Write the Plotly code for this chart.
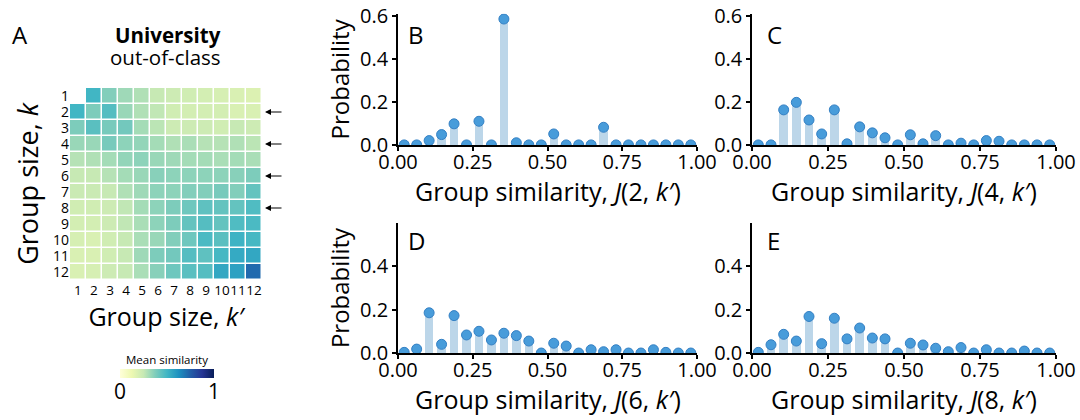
import plotly.graph_objects as go

FONT = "Open Sans"

# ---------------- data ----------------
group_sizes = [1, 2, 3, 4, 5, 6, 7, 8, 9, 10, 11, 12]
N = None
mean_similarity = [
    [N,    0.50, 0.37, 0.32, 0.29, 0.25, 0.23, 0.22, 0.21, 0.20, 0.19, 0.18],
    [0.50, 0.38, 0.46, 0.33, 0.29, 0.26, 0.22, 0.21, 0.21, 0.21, 0.19, 0.19],
    [0.38, 0.45, 0.39, 0.40, 0.31, 0.27, 0.23, 0.23, 0.23, 0.22, 0.25, 0.23],
    [0.33, 0.33, 0.39, 0.35, 0.34, 0.31, 0.29, 0.30, 0.28, 0.28, 0.29, 0.27],
    [0.28, 0.29, 0.31, 0.34, 0.35, 0.33, 0.32, 0.31, 0.31, 0.30, 0.31, 0.30],
    [0.25, 0.25, 0.28, 0.31, 0.33, 0.36, 0.35, 0.35, 0.35, 0.35, 0.36, 0.38],
    [0.24, 0.24, 0.25, 0.29, 0.32, 0.35, 0.35, 0.37, 0.37, 0.39, 0.37, 0.43],
    [0.22, 0.22, 0.23, 0.26, 0.31, 0.35, 0.38, 0.41, 0.44, 0.43, 0.43, 0.47],
    [0.21, 0.21, 0.23, 0.26, 0.30, 0.35, 0.38, 0.43, 0.46, 0.43, 0.47, 0.48],
    [0.20, 0.19, 0.22, 0.25, 0.30, 0.33, 0.37, 0.41, 0.48, 0.45, 0.51, 0.49],
    [0.19, 0.19, 0.22, 0.25, 0.32, 0.38, 0.40, 0.46, 0.44, 0.49, 0.54, 0.55],
    [0.19, 0.20, 0.23, 0.25, 0.30, 0.36, 0.41, 0.45, 0.46, 0.55, 0.57, 0.72],
]
arrow_rows = [2, 4, 6, 8]
colorbar_ticks = [0, 1]

bin_centers = [0.0208, 0.0625, 0.1042, 0.1458, 0.1875, 0.2292, 0.2708, 0.3125,
               0.3542, 0.3958, 0.4375, 0.4792, 0.5208, 0.5625, 0.6042, 0.6458,
               0.6875, 0.7292, 0.7708, 0.8125, 0.8542, 0.8958, 0.9375, 0.9792]
prob_k2 = [0, 0, 0.020, 0.048, 0.098, 0, 0.110, 0, 0.586, 0.010, 0, 0,
           0.051, 0, 0, 0, 0.082, 0, 0, 0, 0, 0, 0, 0]
prob_k4 = [0, 0, 0.163, 0.198, 0.116, 0.051, 0.163, 0.005, 0.084, 0.056, 0.033, 0,
           0.047, 0.005, 0.043, 0, 0.008, 0, 0.020, 0.017, 0, 0, 0, 0]
prob_k6 = [0.003, 0.018, 0.185, 0.040, 0.172, 0.083, 0.100, 0.060, 0.091, 0.080, 0.055, 0,
           0.045, 0.032, 0, 0.015, 0.006, 0.015, 0, 0, 0.015, 0.003, 0, 0]
prob_k8 = [0.003, 0.038, 0.086, 0.055, 0.168, 0.043, 0.160, 0.065, 0.115, 0.069, 0.065, 0,
           0.045, 0.037, 0.022, 0.006, 0.025, 0, 0.015, 0, 0, 0.009, 0, 0]

panels = [
    ("B", 2, prob_k2, "x2", "y2"),
    ("C", 4, prob_k4, "x3", "y3"),
    ("D", 6, prob_k6, "x4", "y4"),
    ("E", 8, prob_k8, "x5", "y5"),
]

ylgnbu = [[0.0, "#ffffd9"], [0.125, "#edf8b1"], [0.25, "#c7e9b4"], [0.375, "#7fcdbb"],
          [0.5, "#41b6c4"], [0.625, "#1d91c0"], [0.75, "#225ea8"], [0.875, "#253494"],
          [1.0, "#081d58"]]

BAR_COLOR = "rgb(188,214,233)"
DOT_COLOR = "rgb(72,156,218)"
DOT_EDGE = "rgb(52,128,196)"

CB_LEFT, CB_RIGHT = 120, 214

fig = go.Figure()

fig.add_trace(go.Heatmap(
    z=mean_similarity, x=group_sizes, y=group_sizes,
    colorscale=ylgnbu, zmin=0, zmax=1, xgap=1.5, ygap=1.5,
    hoverongaps=False,
    colorbar=dict(
        orientation="h", x=(CB_LEFT + CB_RIGHT) / 2 / 1080, xanchor="center",
        y=1 - 378 / 420, yanchor="bottom",
        len=CB_RIGHT - CB_LEFT, lenmode="pixels", thickness=9, outlinewidth=0,
        xpad=0, ypad=0, showticklabels=False, ticks="",
        title=dict(text="Mean similarity", side="top",
                   font=dict(family=FONT, size=11.5, color="black")),
    ),
    xaxis="x", yaxis="y",
))

for label, k, probs, xa, ya in panels:
    fig.add_trace(go.Bar(x=bin_centers, y=probs, width=0.028,
                         marker=dict(color=BAR_COLOR, line=dict(width=0)),
                         xaxis=xa, yaxis=ya, showlegend=False))
    fig.add_trace(go.Scatter(x=bin_centers, y=probs, mode="markers",
                             marker=dict(size=10, color=DOT_COLOR,
                                         line=dict(color=DOT_EDGE, width=1)),
                             xaxis=xa, yaxis=ya, showlegend=False))

tickfont = dict(family=FONT, size=20, color="black")
titlefont = dict(family=FONT, size=25, color="black")

layout = dict(
    width=1080, height=420, margin=dict(l=0, r=0, t=0, b=0, autoexpand=False),
    paper_bgcolor="white", plot_bgcolor="white", showlegend=False,
    font=dict(family=FONT, color="black"),
    bargap=0,
    xaxis=dict(domain=[0.0648, 0.2426], range=[0.5, 12.5], tickvals=group_sizes,
               ticks="", showgrid=False, zeroline=False, showline=False, tickangle=0,
               automargin=False,
               tickfont=dict(family=FONT, size=13.5, color="black"),
               title=dict(text="Group size, <i>k′</i>", font=titlefont, standoff=4)),
    yaxis=dict(domain=[0.3333, 0.7905], range=[12.5, 0.5], tickvals=group_sizes,
               ticks="", showgrid=False, zeroline=False, showline=False,
               automargin=False,
               tickfont=dict(family=FONT, size=14, color="black"),
               title=dict(text="Group size, <i>k</i>", font=dict(family=FONT, size=27, color="black"),
                          standoff=6)),
)

xdomains = {"x2": [0.3685, 0.6454], "x3": [0.6963, 0.9778],
            "x4": [0.3685, 0.6454], "x5": [0.6963, 0.9778]}
ydomains = {"y2": [0.655, 0.967], "y3": [0.655, 0.967],
            "y4": [0.1595, 0.469], "y5": [0.1595, 0.469]}
label_pos = {"B": (406, 34), "C": (765, 34), "D": (406, 241), "E": (765, 241)}
xtitle_y = {"y2": 191, "y3": 191, "y4": 399, "y5": 399}

annotations = []
for label, k, probs, xa, ya in panels:
    xn = "xaxis" + xa[1:]
    yn = "yaxis" + ya[1:]
    top = ya in ("y2", "y3")
    left = xa in ("x2", "x4")
    layout[xn] = dict(
        domain=xdomains[xa], anchor=ya, range=[0, 1], automargin=False,
        tickvals=[0, 0.25, 0.5, 0.75, 1.0], ticktext=["0.00", "0.25", "0.50", "0.75", "1.00"],
        showline=True, linecolor="black", linewidth=1.5, ticks="outside",
        ticklen=4, tickwidth=1.5, tickcolor="black", ticklabelstandoff=-6,
        showgrid=False, zeroline=False, tickfont=tickfont,
    )
    layout[yn] = dict(
        domain=ydomains[ya], anchor=xa, automargin=False,
        range=[0, 0.61] if top else [0, 0.598],
        tickvals=[0, 0.2, 0.4, 0.6] if top else [0, 0.2, 0.4],
        ticktext=["0.0", "0.2", "0.4", "0.6"] if top else ["0.0", "0.2", "0.4"],
        showline=True, linecolor="black", linewidth=1.5, ticks="outside",
        ticklen=4, tickwidth=1.5, tickcolor="black",
        showgrid=False, zeroline=False, tickfont=tickfont,
        title=dict(text="Probability" if left else "",
                   font=dict(family=FONT, size=24, color="black"), standoff=4),
    )
    dom = xdomains[xa]
    annotations.append(dict(
        text=f"Group similarity, <i>J</i>({k}, <i>k′</i>)", xref="paper", yref="paper",
        x=(dom[0] + dom[1]) / 2, y=1 - xtitle_y[ya] / 420, xanchor="center", yanchor="middle",
        showarrow=False, font=titlefont))
    px_, py_ = label_pos[label]
    annotations.append(dict(
        text=label, xref="paper", yref="paper", x=px_ / 1080, y=1 - py_ / 420,
        xanchor="left", yanchor="middle", showarrow=False,
        font=dict(family=FONT, size=24, color="black")))

annotations.append(dict(text="A", xref="paper", yref="paper", x=10 / 1080, y=1 - 34 / 420,
                        xanchor="left", yanchor="middle", showarrow=False,
                        font=dict(family=FONT, size=24, color="black")))
annotations.append(dict(text="<b>University</b>", xref="paper", yref="paper",
                        x=168 / 1080, y=1 - 35 / 420, xanchor="center", yanchor="middle",
                        showarrow=False, font=dict(family=FONT, size=20.5, color="black")))
annotations.append(dict(text="out-of-class", xref="paper", yref="paper",
                        x=165 / 1080, y=1 - 57 / 420, xanchor="center", yanchor="middle",
                        showarrow=False, font=dict(family=FONT, size=20.5, color="black")))
for v, xpix in zip(colorbar_ticks, [CB_LEFT, CB_RIGHT]):
    annotations.append(dict(text=str(v), xref="paper", yref="paper", x=xpix / 1080,
                            y=1 - 391 / 420, xanchor="center", yanchor="middle",
                            showarrow=False, font=dict(family=FONT, size=21, color="black")))
for r in arrow_rows:
    annotations.append(dict(text="", xref="paper", yref="y", x=265 / 1080, y=r,
                            ax=18, ay=0, axref="pixel", ayref="pixel",
                            showarrow=True, arrowhead=2, arrowsize=1, arrowwidth=1.2,
                            arrowcolor="black"))

layout["annotations"] = annotations
fig.update_layout(**layout)

fig.write_html("out.html")
